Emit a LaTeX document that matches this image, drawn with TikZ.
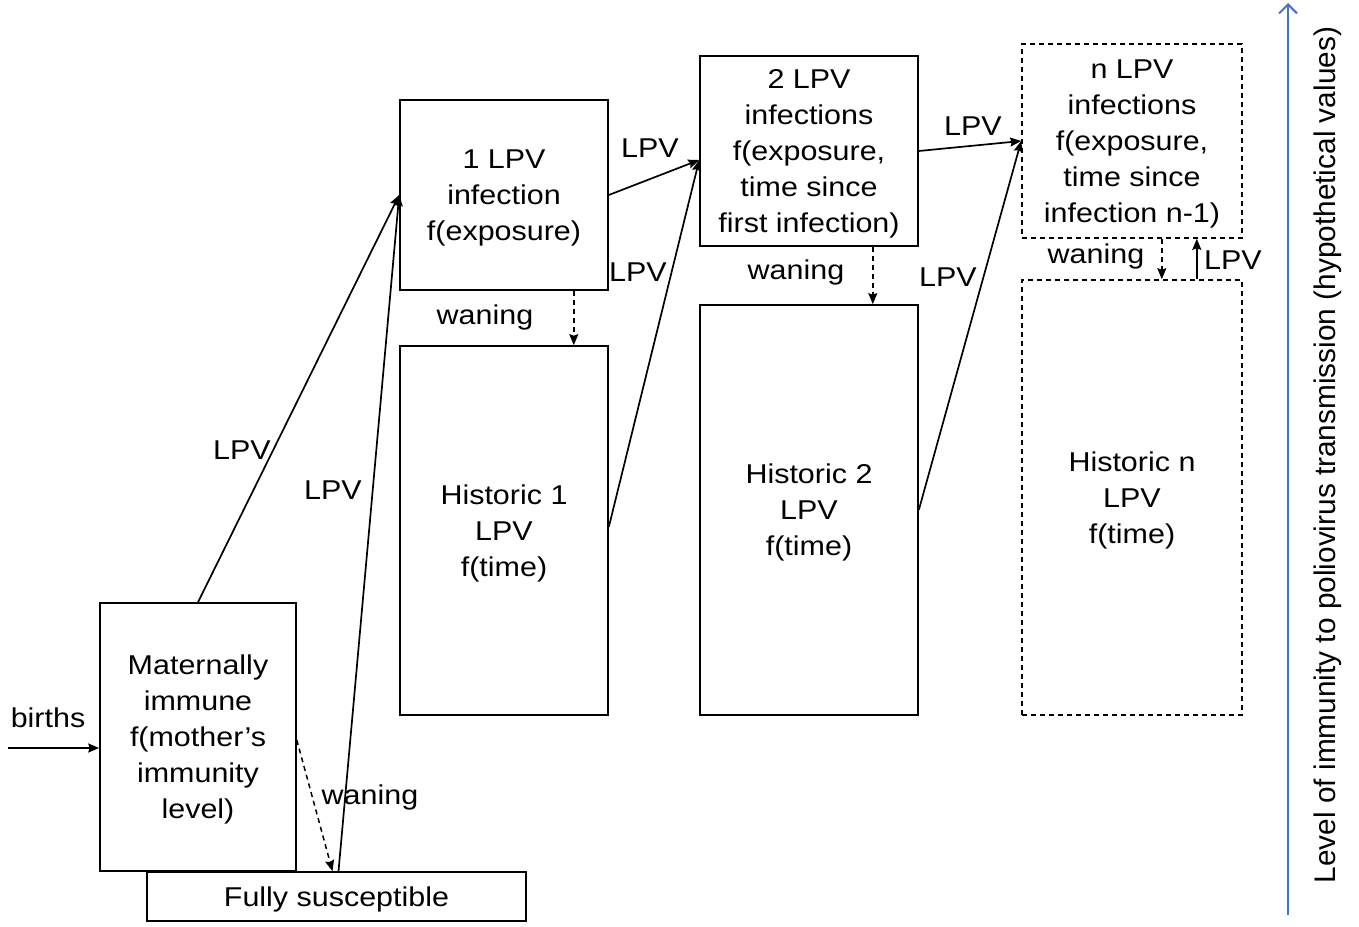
\documentclass[tikz,border=0pt]{standalone}
\usepackage{fontspec}
\setmainfont{Liberation Sans}[FakeStretch=1.12]
\newfontfamily\axisfont{Liberation Sans}
\usetikzlibrary{arrows.meta}
\definecolor{axisblue}{RGB}{68,114,196}
\begin{document}
\begin{tikzpicture}[x=1pt, y=-1pt, >={Stealth[length=11pt,width=9pt,inset=1.5pt]}]
	\tikzstyle{every node} = [font=\fontsize{27.2}{36}\selectfont, align=center, inner sep=0pt]
	\tikzstyle{box} = [draw, line width=1.6pt, text depth=-5pt]
	\tikzstyle{dbox} = [box, dash pattern=on 5pt off 4pt]
	\tikzstyle{flow} = [->, line width=1.7pt]
	\tikzstyle{wane} = [->, line width=1.5pt, dash pattern=on 5pt off 4pt]
	\useasboundingbox (0,0) rectangle (1359,926);
	% compartments
	\node [box, minimum width=196pt, minimum height=268pt] (Maternal) at (198,737) {Maternally\\immune\\f(mother’s\\immunity\\level)};
	\node [box, minimum width=379pt, minimum height=49pt] (Suscept) at (336.5,896.5) {Fully susceptible};
	\node [box, minimum width=208pt, minimum height=190pt] (Inf1) at (504,195) {1 LPV\\infection\\f(exposure)};
	\node [box, minimum width=208pt, minimum height=369pt] (Hist1) at (504,530.5) {Historic 1\\LPV\\f(time)};
	\node [box, minimum width=218pt, minimum height=190pt] (Inf2) at (809,151) {2 LPV\\infections\\f(exposure,\\time since\\first infection)};
	\node [box, minimum width=218pt, minimum height=410pt] (Hist2) at (809,510) {Historic 2\\LPV\\f(time)};
	\node [dbox, minimum width=220pt, minimum height=194pt] (InfN) at (1132,141) {n LPV\\infections\\f(exposure,\\time since\\infection n-1)};
	\node [dbox, minimum width=220pt, minimum height=435pt] (HistN) at (1132,497.5) {Historic n\\LPV\\f(time)};
	% births
	\coordinate (Birth) at (8,748);
	\node (BirthLbl) at (48,718) {births};
	\draw [flow] (Birth)--(Maternal.west |- Birth);
	% infections
	\draw [flow] (Maternal.north)--(Inf1.west);
	\draw [flow] ([xshift=2pt]Suscept.north)--(Inf1.west);
	\draw [flow] (Inf1.east)--([yshift=-9pt]Inf2.west);
	\draw [flow] ([yshift=3.5pt]Hist1.east)--([yshift=-9pt]Inf2.west);
	\draw [flow] (Inf2.east)--(InfN.west);
	\draw [flow] (Hist2.east)--(InfN.west);
	\draw [flow] ([xshift=-46pt]HistN.north east)--([xshift=-46pt]InfN.south east);
	\node (LpvA) at (242,450) {LPV};
	\node (LpvB) at (333,490) {LPV};
	\node (LpvC) at (650,148) {LPV};
	\node (LpvD) at (638,272) {LPV};
	\node (LpvE) at (973,126) {LPV};
	\node (LpvF) at (948,277) {LPV};
	\node (LpvG) at (1233,260) {LPV};
	% waning
	\draw [wane] ([yshift=-3pt]Maternal.east)--([xshift=-4pt]Suscept.north);
	\draw [wane] ([xshift=-35pt]Inf1.south east)--([xshift=-35pt]Hist1.north east);
	\draw [wane] ([xshift=-46pt]Inf2.south east)--([xshift=-46pt]Hist2.north east);
	\draw [wane] ([xshift=-81pt]InfN.south east)--([xshift=-81pt]HistN.north east);
	\node (WaneA) at (370,797) {waning};
	\node (WaneB) at (485,317) {waning};
	\node (WaneC) at (796,272) {waning};
	\node (WaneD) at (1096,256) {waning};
	% immunity axis
	\coordinate (AxisLow) at (1288,915);
	\coordinate (AxisHigh) at (1288,3);
	\draw [->, axisblue, line width=2pt, >={Straight Barb[length=9pt,width=18pt]}] (AxisLow)--(AxisHigh);
	\node [rotate=90, font=\axisfont\fontsize{29.8}{36}\selectfont] (AxisLbl) at (1328,455) {Level of immunity to poliovirus transmission (hypothetical values)};
\end{tikzpicture}
\end{document}
